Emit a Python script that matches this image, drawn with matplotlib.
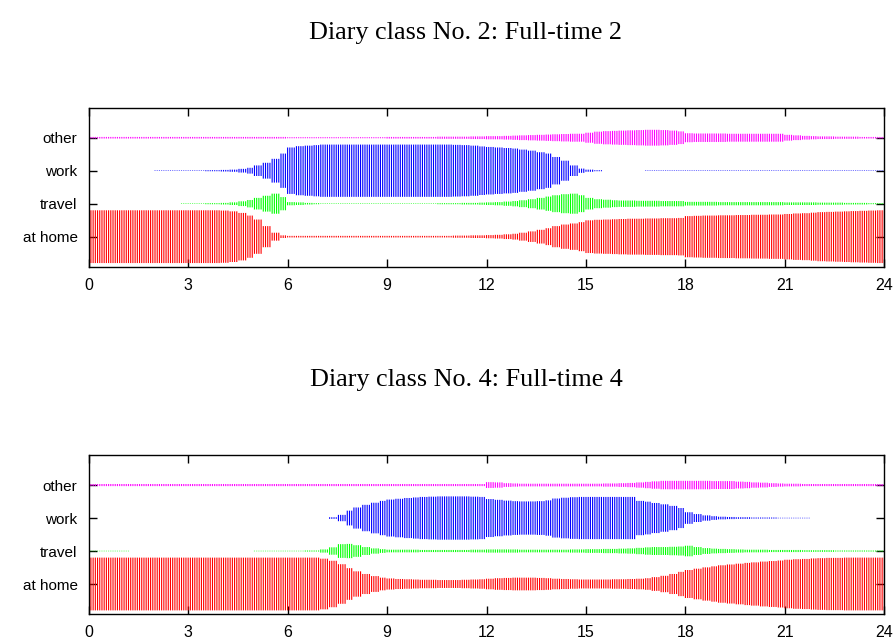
import numpy as np
import matplotlib.pyplot as plt

# activity probabilities (percent) per quarter hour, 00:00-24:00 (96 slots)
activities = ['at home', 'travel', 'work', 'other']
colors = ['#ff0000', '#00ff00', '#0000ff', '#ff00ff']
hour_ticks = [0, 3, 6, 9, 12, 15, 18, 21, 24]

titles = ['Diary class No. 2: Full-time 2', 'Diary class No. 4: Full-time 4']

ft2_home = [100, 100, 100, 100, 100, 100, 100, 100, 100, 100, 100, 100, 100, 100, 100, 100,
            99, 96, 90, 80, 65, 40, 15, 5, 3, 3, 3, 3, 3, 3, 3, 3,
            3, 3, 3, 3, 3, 3, 3, 3, 3, 3, 3, 3, 4, 4, 5, 5,
            6, 7, 9, 11, 15, 20, 26, 32, 40, 46, 50, 55, 62, 64, 65, 66,
            67, 68, 68, 69, 69, 70, 70, 71, 78, 79, 80, 80, 81, 81, 82, 82,
            83, 83, 84, 84, 86, 88, 89, 91, 93, 94, 95, 96, 97, 98, 99, 100]
ft2_travel = [0, 0, 0, 0, 0, 0, 0, 0, 0, 0, 0, 1, 1, 1, 2, 2,
              3, 5, 9, 14, 22, 30, 38, 25, 6, 5, 3, 2, 1, 1, 1, 1,
              1, 1, 1, 1, 1, 1, 1, 1, 1, 1, 2, 2, 2, 3, 3, 4,
              5, 6, 8, 10, 13, 17, 22, 27, 32, 36, 38, 32, 22, 17, 15, 13,
              12, 12, 11, 11, 11, 10, 10, 10, 7, 7, 7, 7, 6, 6, 6, 6,
              6, 6, 6, 6, 5, 5, 5, 5, 4, 4, 4, 3, 3, 3, 2, 2]
ft2_work = [0, 0, 0, 0, 0, 0, 0, 0, 1, 1, 1, 1, 1, 1, 2, 2,
            3, 4, 7, 11, 20, 30, 45, 65, 88, 93, 95, 97, 99, 99, 99, 99,
            99, 99, 99, 99, 99, 99, 99, 99, 99, 99, 99, 99, 98, 97, 95, 92,
            90, 88, 86, 84, 80, 76, 70, 65, 52, 38, 20, 8, 4, 2, 0, 0,
            0, 0, 0, 1, 1, 1, 1, 1, 1, 1, 1, 1, 1, 1, 1, 1,
            1, 1, 1, 1, 1, 1, 1, 1, 1, 1, 1, 1, 1, 1, 1, 1]
ft2_other = [3, 3, 3, 3, 3, 3, 3, 3, 3, 3, 3, 3, 3, 3, 3, 3,
             3, 3, 3, 3, 3, 3, 3, 3, 2, 2, 2, 2, 2, 2, 2, 2,
             2, 2, 2, 2, 3, 3, 3, 3, 3, 3, 4, 4, 4, 4, 5, 5,
             6, 6, 7, 8, 9, 10, 11, 12, 13, 14, 15, 15, 19, 23, 25, 26,
             27, 28, 29, 30, 30, 29, 27, 24, 17, 16, 16, 16, 16, 15, 15, 15,
             15, 15, 15, 15, 11, 9, 7, 6, 5, 5, 4, 4, 4, 3, 3, 3]

ft4_home = [100, 100, 100, 100, 100, 100, 100, 100, 100, 100, 100, 100, 100, 100, 100, 100,
            100, 100, 100, 100, 100, 100, 100, 100, 100, 100, 100, 100, 96, 88, 75, 60,
            48, 38, 30, 24, 21, 19, 18, 17, 16, 16, 15, 15, 15, 16, 17, 18,
            20, 22, 23, 24, 24, 24, 23, 22, 20, 19, 18, 17, 17, 17, 17, 18,
            18, 19, 20, 22, 26, 31, 38, 46, 53, 58, 63, 67, 71, 74, 77, 80,
            82, 85, 87, 89, 92, 94, 95, 97, 98, 99, 99, 100, 100, 100, 100, 100]
ft4_travel = [1, 1, 1, 1, 1, 0, 0, 0, 0, 0, 0, 0, 0, 0, 0, 0,
              0, 0, 0, 0, 1, 1, 1, 1, 1, 1, 2, 2, 6, 14, 26, 27,
              22, 15, 10, 7, 5, 5, 5, 5, 4, 4, 4, 4, 4, 4, 5, 5,
              6, 6, 6, 6, 5, 5, 5, 5, 5, 5, 6, 6, 7, 7, 8, 8,
              9, 10, 12, 14, 15, 15, 16, 17, 20, 15, 11, 9, 8, 7, 6, 5,
              5, 5, 4, 4, 4, 4, 3, 3, 3, 3, 2, 2, 2, 2, 2, 2]
ft4_work = [0, 0, 0, 0, 0, 0, 0, 0, 0, 0, 0, 0, 0, 0, 0, 0,
            0, 0, 0, 0, 0, 0, 0, 0, 0, 0, 0, 0, 0, 3, 12, 28,
            40, 50, 58, 65, 70, 73, 76, 78, 80, 81, 82, 82, 82, 82, 81, 80,
            72, 69, 66, 64, 63, 63, 64, 67, 74, 77, 79, 80, 80, 80, 80, 80,
            80, 80, 65, 62, 57, 52, 46, 38, 22, 15, 10, 7, 5, 4, 3, 3,
            2, 2, 2, 1, 1, 1, 1, 0, 0, 0, 0, 0, 0, 0, 0, 0]
ft4_other = [4, 4, 4, 4, 4, 4, 4, 4, 4, 4, 4, 4, 4, 4, 4, 4,
             4, 4, 4, 4, 4, 4, 4, 4, 4, 4, 4, 4, 4, 4, 4, 4,
             4, 4, 4, 4, 4, 4, 4, 4, 4, 4, 4, 4, 4, 4, 4, 4,
             11, 10, 7, 6, 5, 5, 5, 5, 5, 5, 5, 5, 5, 5, 6, 6,
             7, 8, 10, 12, 14, 16, 16, 16, 16, 16, 16, 15, 15, 15, 13, 12,
             10, 9, 7, 6, 5, 5, 4, 4, 4, 4, 4, 4, 4, 4, 4, 4]

classes = [[ft2_home, ft2_travel, ft2_work, ft2_other],
           [ft4_home, ft4_travel, ft4_work, ft4_other]]

# one bar every 4 minutes, each takes the value of its quarter-hour slot
t = np.arange(361) / 15.0
slot = np.minimum((t * 4).astype(int), 95)

fig = plt.figure(figsize=(8.96, 6.4), dpi=100)
axes = [fig.add_axes([0.099, 0.5833, 0.888, 0.2484]),
        fig.add_axes([0.099, 0.0406, 0.888, 0.2484])]
title_y = [0.949, 0.407]

for ax, series, title, ty in zip(axes, classes, titles, title_y):
    for k, (vals, col) in enumerate(zip(series, colors)):
        p = np.array(vals)[slot] / 100.0
        keep = p > 0
        c = k + 1
        ax.vlines(t[keep], c - 0.8 * p[keep], c + 0.8 * p[keep], colors=col,
                  lw=0.8, snap=False)
    ax.set_xlim(0, 24)
    ax.set_ylim(0.09, 4.91)
    ax.set_xticks(hour_ticks)
    ax.set_xticklabels([str(h) for h in hour_ticks], family='Liberation Sans', fontsize=11.5)
    ax.set_yticks([1, 2, 3, 4])
    ax.set_yticklabels(activities, family='Liberation Sans', fontsize=11)
    ax.tick_params(direction='in', length=6, width=1, top=True, right=True)
    ax.tick_params(axis='x', pad=8)
    ax.tick_params(axis='y', pad=8)
    for s in ax.spines.values():
        s.set_linewidth(1)
    fig.text(0.52, ty, title, family='Liberation Serif', fontsize=18.8, ha='center', va='center')

fig.savefig('out.png', dpi=100)
